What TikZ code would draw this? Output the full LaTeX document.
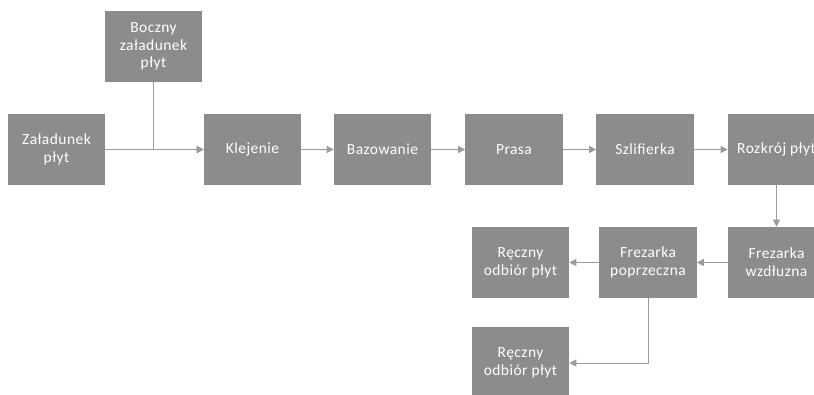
\documentclass[tikz,border=0pt]{standalone}
\usepackage{fontspec}
\setmainfont[LetterSpace=3]{Carlito}
\usetikzlibrary{arrows.meta}

\definecolor{boxgray}{RGB}{140,140,140}
\definecolor{linegray}{RGB}{155,155,155}

\begin{document}
\begin{tikzpicture}[x=.025cm,y=.025cm,
  font=\fontsize{11}{12.6}\selectfont,
  stage/.style={fill=boxgray,text=white,minimum width=2.425cm,minimum height=1.775cm,
    inner sep=0pt,align=center},
  flow/.style={draw=linegray,line width=.7pt,-{Triangle[length=5pt,width=5pt]}}]
\useasboundingbox (0,0) rectangle (814,-394);
% Top row: loading and main line.
\node[stage] (zal) at (56.5,-149.5) {Załadunek\\płyt};
\node[stage] (bocz) at (153.5,-46.5) {Boczny\\załadunek\\płyt};
\node[stage] (klej) at (252.5,-149.5) {Klejenie};
\node[stage] (baz) at (382.5,-149.5) {Bazowanie};
\node[stage] (prasa) at (514,-149.5) {Prasa};
\node[stage] (szlif) at (645,-149.5) {Szlifierka};
\node[stage] (rozk) at (776.5,-149.5) {Rozkrój płyt};
% Bottom rows: milling and unloading.
\node[stage] (frezw) at (776.5,-262.5) {Frezarka\\wzdłuzna};
\node[stage] (frezp) at (648,-262.5) {Frezarka\\poprzeczna};
\node[stage] (recz1) at (520.5,-262.5) {Ręczny\\odbiór płyt};
\node[stage] (recz2) at (520.5,-363) {Ręczny\\odbiór płyt};
% Connectors.
\draw[flow] (zal) -- (klej);
\draw[flow] (bocz) |- (klej);
\draw[flow] (klej) -- (baz);
\draw[flow] (baz) -- (prasa);
\draw[flow] (prasa) -- (szlif);
\draw[flow] (szlif) -- (rozk);
\draw[flow] (rozk) -- (frezw);
\draw[flow] (frezw) -- (frezp);
\draw[flow] (frezp) -- (recz1);
\draw[flow] (frezp) |- (recz2);
\end{tikzpicture}
\end{document}
